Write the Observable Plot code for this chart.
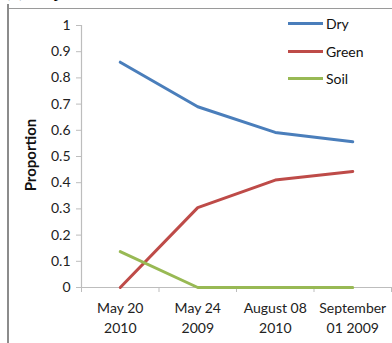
<!DOCTYPE html>
<html>
<head>
<meta charset="utf-8">
<script src="https://cdn.jsdelivr.net/npm/d3@7"></script>
<script src="https://cdn.jsdelivr.net/npm/@observablehq/plot@0.6"></script>
<style>
  html, body { margin: 0; padding: 0; background: #fff; }
  #wrap { position: relative; width: 392px; height: 343px; overflow: hidden; font-family: Lato, "Open Sans", sans-serif; }
  #frameL { position: absolute; left: 7px; top: 4px; width: 2px; height: 340px; background: #8c8c8c; }
  #frameT { position: absolute; left: 9px; top: 8px; width: 383px; height: 1px; background: #9a9a9a; }
  #cap { position: absolute; left: 3px; top: -21px; line-height: 21px; font-family: "Liberation Serif", serif; font-size: 21px; color: #000; white-space: pre; }
  #legend { position: absolute; left: 288px; top: 10px; font-size: 14px; color: #111; }
  .li { display: flex; align-items: center; height: 27.5px; }
  .sw { width: 35px; height: 3px; margin-right: 3px; }
  #chart { position: absolute; left: 0; top: 0; }
  #ytitle { position: absolute; left: 30px; top: 155px; transform: translate(-50%, -50%) rotate(-90deg); font-weight: bold; font-size: 15px; color: #111; white-space: nowrap; }
</style>
</head>
<body>
<div id="wrap">
  <div id="cap">(c) Dry</div>
  <div id="frameL"></div>
  <div id="frameT"></div>
  <div id="chart"></div>
  <div id="ytitle">Proportion</div>
  <div id="legend"></div>
</div>
<script>
const categories = ["May 20\n2010", "May 24\n2009", "August 08\n2010", "September\n01 2009"];
const seriesNames = ["Dry", "Green", "Soil"];
const dryValues = [0.86, 0.69, 0.592, 0.556];
const greenValues = [0.0, 0.305, 0.41, 0.443];
const soilValues = [0.137, 0.0, 0.0, 0.0];
const yTicks = [0, 0.1, 0.2, 0.3, 0.4, 0.5, 0.6, 0.7, 0.8, 0.9, 1];
const colors = ["#4a7ebb", "#be4b48", "#98b954"];

const valuesBySeries = [dryValues, greenValues, soilValues];
const data = [];
seriesNames.forEach((s, si) => {
  categories.forEach((c, i) => data.push({series: s, idx: i + 0.5, value: valuesBySeries[si][i]}));
});
const boundaries = d3.range(categories.length + 1);
const labels = categories.map((c, i) => ({label: c, idx: i + 0.5}));

const chart = Plot.plot({
  width: 392, height: 343,
  marginLeft: 81, marginRight: 1, marginTop: 25, marginBottom: 56,
  style: {fontFamily: "Lato, 'Open Sans', sans-serif", background: "transparent"},
  x: {type: "linear", domain: [0, categories.length], axis: null},
  y: {type: "linear", domain: [0, 1], axis: null},
  color: {domain: seriesNames, range: colors},
  marks: [
    Plot.ruleX([0], {stroke: "#bdbdbd", strokeWidth: 1.2, strokeOpacity: 1}),
    Plot.ruleY([0], {stroke: "#bdbdbd", strokeWidth: 1.2, strokeOpacity: 1}),
    Plot.axisY({ticks: yTicks, tickSize: 5, stroke: "#bdbdbd", strokeOpacity: 1, tickPadding: 6, fontSize: 14, fill: "#222", tickFormat: d => d3.format("~g")(d), label: null}),
    Plot.axisX({ticks: boundaries, tickSize: 5, stroke: "#bdbdbd", strokeOpacity: 1, tickFormat: () => "", label: null}),
    Plot.text(labels, {x: "idx", y: 0, text: "label", dy: 29, fontSize: 14, fill: "#222", lineHeight: 1.42}),
    Plot.line(data, {x: "idx", y: "value", stroke: "series", z: "series", strokeWidth: 3})
  ]
});
document.getElementById("chart").appendChild(chart);

const legend = d3.select("#legend");
seriesNames.forEach((s, i) => {
  const li = legend.append("div").attr("class", "li");
  li.append("div").attr("class", "sw").style("background", colors[i]);
  li.append("span").text(s);
});
</script>
</body>
</html>
